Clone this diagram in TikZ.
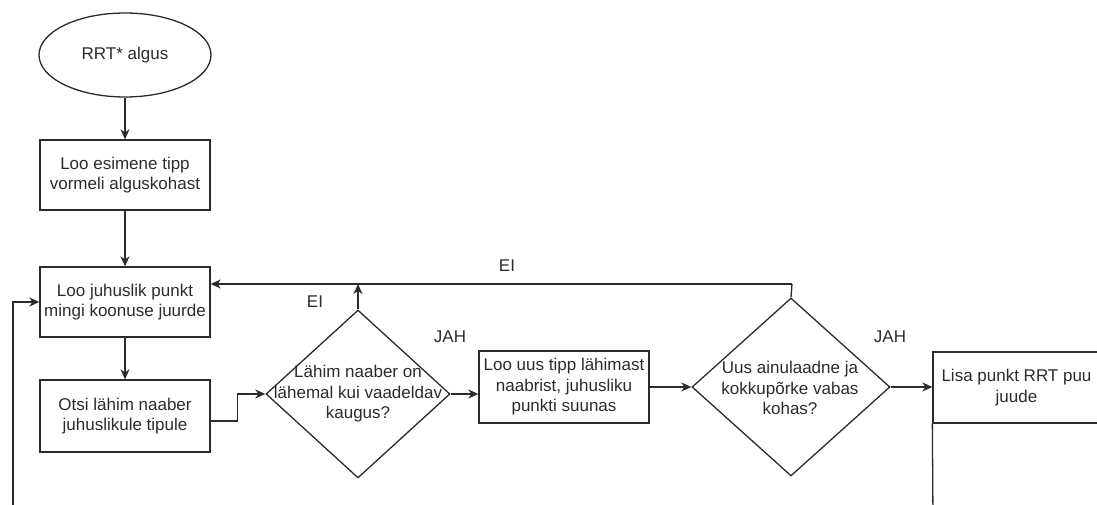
\documentclass[tikz,border=0pt]{standalone}
\usepackage{fontspec}
\setmainfont{Liberation Sans}
\usetikzlibrary{shapes.geometric,arrows.meta}
\definecolor{ink}{HTML}{2B2B2B}
\begin{document}
\begin{tikzpicture}[x=1pt,y=-1pt,
  every node/.style={font=\fontsize{17}{20.5}\selectfont, text=ink, align=center},
  box/.style={draw=ink, line width=1.3pt, rectangle, inner sep=0pt, minimum width=170pt, minimum height=70pt},
  startnode/.style={draw=ink, line width=1.3pt, ellipse, inner sep=0pt, minimum width=172pt, minimum height=84pt},
  decision/.style={draw=ink, line width=1.3pt, diamond, inner sep=0pt},
  lbl/.style={inner sep=0pt},
  flow/.style={draw=ink, line width=1.3pt, -{Stealth[length=10pt,width=9pt,inset=3pt]}},
  plain/.style={draw=ink, line width=1.3pt}]
\useasboundingbox (0,0) rectangle (1097,505);
\clip (0,0) rectangle (1097,505);

% start and first steps
\node[startnode] (start) at (125,55) {RRT* algus};
\node[box] (b1) at (125,175) {Loo esimene tipp\\vormeli alguskohast};
\node[box] (b2) at (125,302) {Loo juhuslik punkt\\mingi koonuse juurde};
\node[box, minimum height=72pt] (b3) at (125,416) {Otsi lähim naaber\\juhuslikule tipule};

% first decision
\node[decision, minimum width=184pt, minimum height=168pt] (d1) at (358,394) {};
\node[lbl] (t1) at (358,394) {Lähim naaber on\\lähemal kui vaadeldav\\kaugus?};

\node[box, minimum height=72pt] (b4) at (564,387) {Loo uus tipp lähimast\\naabrist, juhusliku\\punkti suunas};

% second decision
\node[decision, minimum width=198pt, minimum height=178pt] (d2) at (791,387) {};
\node[lbl] (t2) at (790,388) {Uus ainulaadne ja\\kokkupõrke vabas\\kohas?};

% last step, continues below the frame
\node[box, minimum width=167pt, minimum height=71pt] (b5) at (1016.5,387.5) {Lisa punkt RRT puu\\juude};
\coordinate (b5low) at (933,520);
\coordinate (b5lowr) at (1100,520);
\draw[plain] (b5.south west) -- (b5low);
\draw[plain] (b5.south east) -- (b5lowr);

% labels
\node[lbl] (ei1) at (315,302) {EI};
\node[lbl] (ei2) at (507,266) {EI};
\node[lbl] (jah1) at (450,337) {JAH};
\node[lbl] (jah2) at (890,337) {JAH};

% connectors
\draw[flow] (start.south) -- (b1.north);
\draw[flow] (b1.south) -- (b2.north);
\draw[flow] (b2.south) -- (b3.north);
\draw[flow] ([yshift=-5pt]b3.east) -- ++(27,0) |- (d1.west);
\coordinate (ret) at (792,284);
\draw[plain] (d2.north) -- (ret);
\draw[flow] (ret) -- (b2.east |- ret);
\draw[flow] (d1.north) -- (d1.north |- ret);
\draw[flow] (d1.east) -- (d1.east -| b4.west);
\draw[flow] (b4.east) -- (d2.west);
\draw[flow] (d2.east) -- (d2.east -| b5.west);
\coordinate (loop) at (13,510);
\draw[flow] (loop) |- (b2.west);
\end{tikzpicture}
\end{document}
